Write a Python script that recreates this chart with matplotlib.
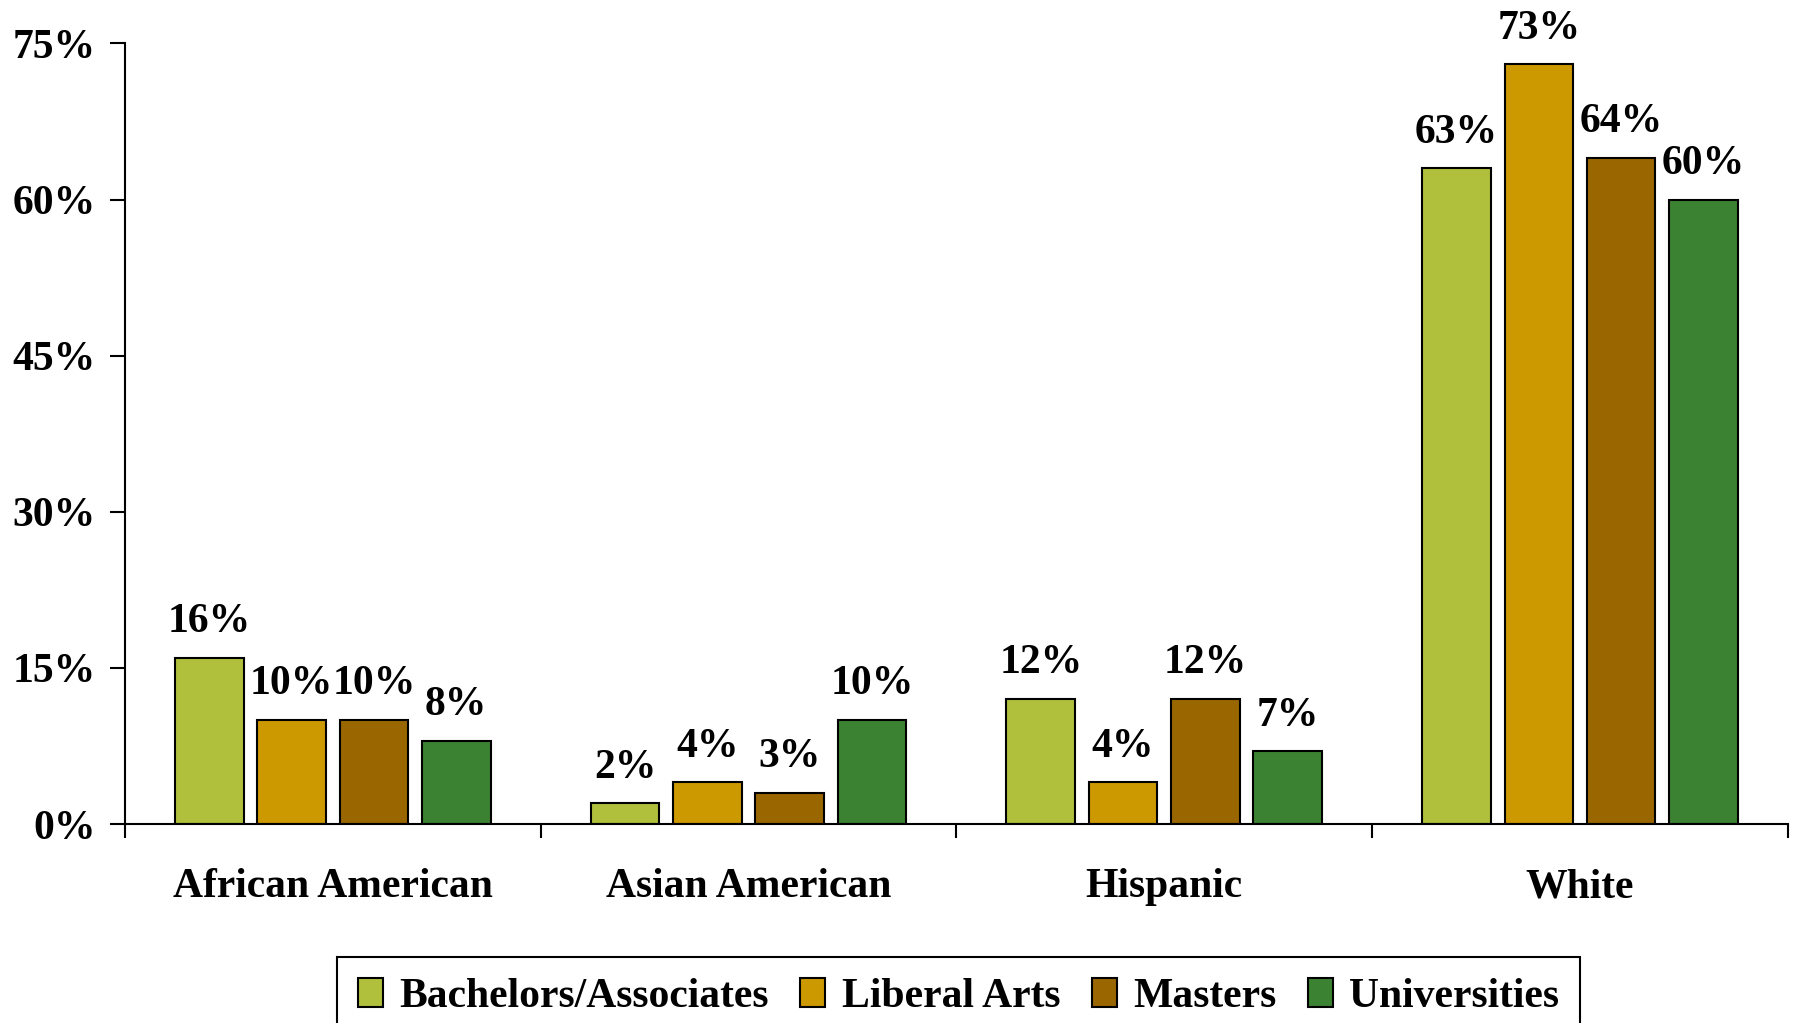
import numpy as np
import matplotlib
matplotlib.use('Agg')
import matplotlib.pyplot as plt
from matplotlib.ticker import FixedLocator

matplotlib.rc('font', family='Liberation Serif', weight='bold', size=30)

groups = ['African American', 'Asian American', 'Hispanic', 'White']
series = ['Bachelors/Associates', 'Liberal Arts', 'Masters', 'Universities']
bachelors = [16, 2, 12, 63]
liberal_arts = [10, 4, 4, 73]
masters = [10, 3, 12, 64]
universities = [8, 10, 7, 60]
colors = ['#B0C03C', '#CC9900', '#996600', '#3C8233']
yticks = [0, 15, 30, 45, 60, 75]

fig = plt.figure(figsize=(17.95, 10.23), dpi=100)
ax = fig.add_axes([0.0696, 0.1945, 0.9264, 0.763])

x = np.arange(len(groups))
w = 0.165
step = 0.198
for i, (vals, name) in enumerate(zip([bachelors, liberal_arts, masters, universities], series)):
    pos = x + (i - 1.5) * step
    ax.bar(pos, vals, w, color=colors[i], edgecolor='black', linewidth=1.5, label=name)
    for px, v in zip(pos, vals):
        ax.annotate('%d%%' % v, (px, v), xytext=(0, 12), textcoords='offset points',
                    ha='center', va='bottom', fontsize=30)

ax.set_xlim(-0.5, 3.5)
ax.set_ylim(0, 75)
ax.spines['top'].set_visible(False)
ax.spines['right'].set_visible(False)
ax.spines['left'].set_linewidth(1.5)
ax.spines['bottom'].set_linewidth(1.5)

ax.set_yticks(yticks)
ax.set_yticklabels(['%d%%' % t for t in yticks])
ax.tick_params(axis='y', direction='out', length=11, width=1.5, pad=10)

ax.set_xticks(x)
ax.set_xticklabels(groups)
ax.tick_params(axis='x', which='major', length=0, pad=32)
ax.xaxis.set_minor_locator(FixedLocator(np.arange(-0.5, 4.0, 1.0)))
ax.tick_params(axis='x', which='minor', direction='out', length=10, width=1.5)

leg = fig.legend(loc='upper center', bbox_to_anchor=(0.534, 0.0645), ncol=4,
                 frameon=True, fancybox=False, edgecolor='black', framealpha=1,
                 handlelength=0.6, handleheight=0.7, handletextpad=0.4,
                 columnspacing=0.75, borderpad=0.5, borderaxespad=0, fontsize=30)
leg.get_frame().set_linewidth(1.5)

plt.savefig('out.png', dpi=100)
plt.close()
